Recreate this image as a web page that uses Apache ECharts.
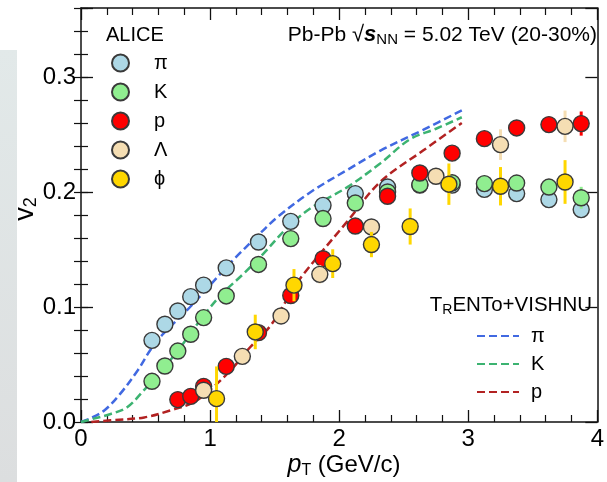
<!DOCTYPE html>
<html>
<head>
<meta charset="utf-8">
<script src="https://cdn.jsdelivr.net/npm/echarts@6/dist/echarts.min.js"></script>
<style>
html,body{margin:0;padding:0;background:#fff;}
#chart{width:607px;height:482px;}
</style>
</head>
<body>
<div id="chart"></div>
<script>
// ---------- data ----------
const xTicks = [0, 1, 2, 3, 4];
const yTicks = [0.0, 0.1, 0.2, 0.3];

const pionX = [0.55,0.65,0.75,0.85,0.95,1.125,1.375,1.625,1.875,2.125,2.375,2.625,2.875,3.125,3.375,3.625,3.875];
const pionY = [0.071,0.085,0.0965,0.109,0.119,0.134,0.1565,0.1745,0.1884,0.1986,0.2043,0.206,0.206,0.2023,0.1986,0.1934,0.1847];
const pionErr = [0.001,0.001,0.001,0.001,0.001,0.001,0.001,0.002,0.002,0.002,0.002,0.003,0.003,0.004,0.004,0.005,0.006];

const kaonX = [0.55,0.65,0.75,0.85,0.95,1.125,1.375,1.625,1.875,2.125,2.375,2.625,2.875,3.125,3.375,3.625,3.875];
const kaonY = [0.0354,0.0487,0.0617,0.0763,0.0908,0.1096,0.137,0.1595,0.1769,0.1904,0.200,0.2064,0.208,0.2073,0.2078,0.2043,0.195];
const kaonErr = [0.001,0.001,0.001,0.001,0.001,0.001,0.002,0.002,0.002,0.002,0.003,0.003,0.004,0.004,0.005,0.006,0.0095];

const protonX = [0.75,0.85,0.95,1.125,1.375,1.625,1.875,2.125,2.375,2.625,2.875,3.125,3.375,3.625,3.875];
const protonY = [0.0195,0.0223,0.031,0.0484,0.0777,0.110,0.142,0.1704,0.1963,0.2165,0.2338,0.2464,0.2557,0.2586,0.2595];
const protonErr = [0.002,0.002,0.002,0.002,0.002,0.002,0.002,0.003,0.003,0.003,0.004,0.004,0.005,0.006,0.0105];

const lambdaX = [0.95,1.25,1.55,1.85,2.25,2.75,3.25,3.75];
const lambdaY = [0.0276,0.0571,0.0922,0.1284,0.1696,0.2137,0.2412,0.2571];
const lambdaErr = [0.003,0.003,0.004,0.008,0.006,0.007,0.0133,0.0137];

const phiX = [1.05,1.35,1.65,1.95,2.25,2.55,2.85,3.25,3.75];
const phiY = [0.0203,0.0783,0.119,0.1377,0.1543,0.170,0.2068,0.205,0.2087];
const phiErr = [0.028,0.015,0.014,0.0125,0.011,0.0157,0.018,0.0167,0.019];

// TRENTo+VISHNU model curves
const modelPiX = [0,0.07,0.18,0.30,0.44,0.54,0.64,0.82,1.0,1.18,1.36,1.52,1.78,2.06,2.32,2.65,2.95];
const modelPiY = [0,0.003,0.010,0.024,0.045,0.063,0.077,0.097,0.119,0.141,0.161,0.178,0.200,0.219,0.236,0.254,0.271];
const modelKX = [0,0.05,0.23,0.36,0.49,0.62,0.77,0.92,1.08,1.26,1.41,1.59,1.78,2.06,2.32,2.55,2.75,2.95];
const modelKY = [0,0.0015,0.007,0.013,0.028,0.044,0.065,0.088,0.110,0.129,0.146,0.168,0.186,0.204,0.225,0.246,0.255,0.265];
const modelPX = [0.08,0.23,0.49,0.69,0.87,1.0,1.16,1.31,1.47,1.62,1.72,2.06,2.32,2.65,2.95];
const modelPY = [0,0.0015,0.004,0.010,0.017,0.028,0.045,0.065,0.084,0.111,0.128,0.174,0.209,0.236,0.260];

const speciesNames = ['π','K','p','Λ','ϕ'];
const modelNames = ['π','K','p'];

// ---------- styles ----------
const FONT = 'Liberation Sans, Arial, Helvetica, sans-serif';
const fills = ['#add8e6','#90ee90','#ff0000','#f5deb3','#ffd700'];
const barColors = ['#add8e6','#90ee90','#ff0000','#f5deb3','#ffd700'];
const modelColors = ['#4169e1','#3cb371','#b22222'];

const zip = (xs, ys) => xs.map((x,i)=>[x, ys[i]]);
const zip3 = (xs, ys, es) => xs.map((x,i)=>[x, ys[i], es[i]]);

const sets = [
  [pionX,pionY,pionErr],[kaonX,kaonY,kaonErr],[protonX,protonY,protonErr],
  [lambdaX,lambdaY,lambdaErr],[phiX,phiY,phiErr]
];
const models = [[modelPiX,modelPiY],[modelKX,modelKY],[modelPX,modelPY]];

const series = [];
models.forEach((m,i)=>{
  series.push({
    name: 'TRENTo ' + modelNames[i],
    type: 'line', xAxisIndex:0, yAxisIndex:0,
    data: zip(m[0], m[1]),
    smooth: 0.35, symbol: 'none', showSymbol:false,
    lineStyle: {color: modelColors[i], width: 2.5, type: [8,4]},
    itemStyle: {color: modelColors[i]},
    z: 2, silent: true
  });
});
sets.forEach((s,i)=>{
  series.push({
    name: 'err ' + speciesNames[i],
    type: 'custom', xAxisIndex:0, yAxisIndex:0,
    data: zip3(s[0], s[1], s[2]),
    clip: true,
    encode: {x:0, y:1},
    renderItem: function(params, api){
      const x = api.value(0), y = api.value(1), e = api.value(2);
      const a = api.coord([x, y - e]), b = api.coord([x, y + e]);
      return {type:'line', shape:{x1:a[0], y1:a[1], x2:b[0], y2:b[1]},
              style:{stroke: barColors[i], lineWidth: 3}};
    },
    z: 3 + i*2, silent: true
  });
  series.push({
    name: speciesNames[i],
    type: 'scatter', xAxisIndex:0, yAxisIndex:0,
    data: zip(s[0], s[1]),
    symbol: 'circle', symbolSize: 16,
    itemStyle: {color: fills[i], borderColor: '#3a3a3a', borderWidth: 1.4, opacity: 1},
    z: 4 + i*2, silent: true
  });
});

const axisCol = '#111';
const baseX = {
  type:'value', min: xTicks[0], max: xTicks[xTicks.length-1], interval: 1,
  axisLine:{show:true, onZero:false, lineStyle:{color:axisCol, width:1.5}},
  axisTick:{show:true, inside:true, length:12, lineStyle:{color:axisCol, width:1.3}},
  minorTick:{show:true, splitNumber:5, length:7, lineStyle:{color:axisCol, width:1.2}},
  splitLine:{show:false}, minorSplitLine:{show:false}
};
const baseY = {
  type:'value', min: 0, max: 0.36, interval: 0.1,
  axisLine:{show:true, onZero:false, lineStyle:{color:axisCol, width:1.5}},
  axisTick:{show:true, inside:true, length:12, lineStyle:{color:axisCol, width:1.3}},
  splitLine:{show:false}
};
const minorY = {
  type:'value', min: 0, max: 0.36, interval: 0.02,
  axisLine:{show:false},
  axisTick:{show:true, inside:true, length:7, lineStyle:{color:axisCol, width:1.2}},
  axisLabel:{show:false}, splitLine:{show:false}
};

const option = {
  animation: false,
  backgroundColor: '#ffffff',
  grid: {left: 81, right: 9, top: 8, bottom: 60},
  xAxis: [
    Object.assign({}, baseX, {position:'bottom',
      axisLabel:{show:true, fontSize:24, color:'#000', fontFamily:FONT, margin:5,
        formatter: v => xTicks.includes(v) ? String(v) : ''}}),
    Object.assign({}, baseX, {position:'top', axisLabel:{show:false}})
  ],
  yAxis: [
    Object.assign({}, baseY, {position:'left',
      axisLabel:{show:true, fontSize:24, color:'#000', fontFamily:FONT, margin:5,
        formatter: v => { const t = yTicks.find(q => Math.abs(q - v) < 1e-6); return t === undefined ? '' : t.toFixed(1); }}}),
    Object.assign({}, minorY, {position:'left'}),
    Object.assign({}, baseY, {position:'right', axisLabel:{show:false}}),
    Object.assign({}, minorY, {position:'right'})
  ],
  legend: [
    {
      data: speciesNames, orient:'vertical', left: 106, top: 48,
      itemWidth: 17, itemHeight: 17, itemGap: 9, icon: 'circle',
      selectedMode: false,
      textStyle: {fontSize: 20, color:'#000', fontFamily: FONT, padding:[0,0,0,20]}
    },
    {
      data: modelNames.map(n => 'TRENTo ' + n), orient:'vertical', left: 471, top: 321,
      itemWidth: 42, itemHeight: 14, itemGap: 8, selectedMode:false,
      itemStyle: {opacity: 0},
      formatter: n => n.replace('TRENTo ', ''),
      textStyle: {fontSize: 20, color:'#000', fontFamily: FONT, padding:[0,0,0,7]}
    }
  ],
  graphic: [
    {type:'text', left: 106, top: 25, z: 50,
      style:{text:'ALICE', fontSize:20, fontFamily:FONT, fill:'#000'}},
    {type:'text', x: 597, y: 35, z: 50,
      style:{text:'Pb-Pb {r|√}{s|s}{sub|NN} = 5.02 TeV (20-30%)', fontSize:21, fontFamily:FONT, fill:'#000',
        align:'right', verticalAlign:'middle',
        rich:{
          r:{fontSize:22, fontFamily:FONT, fill:'#000', lineHeight:21},
          s:{fontSize:22, fontStyle:'italic', fontWeight:'bold', fontFamily:FONT, fill:'#000', lineHeight:21},
          sub:{fontSize:15, fontFamily:FONT, fill:'#000', lineHeight:15, padding:[10,0,0,0]}
        }}},
    {type:'text', x: 592, y: 305, z: 50,
      style:{text:'T{sub|R}ENTo+VISHNU', fontSize:20.5, fontFamily:FONT, fill:'#000',
        align:'right', verticalAlign:'middle',
        rich:{ sub:{fontSize:14, fontFamily:FONT, fill:'#000', lineHeight:14, padding:[10,0,0,0]} }}},
    {type:'text', x: 344, y: 465, z: 50,
      style:{text:'{i|p}{sub|T} (GeV/c)', fontSize:24, fontFamily:FONT, fill:'#000',
        align:'center', verticalAlign:'middle',
        rich:{ i:{fontSize:25, fontStyle:'italic', fontFamily:FONT, fill:'#000', lineHeight:24},
               sub:{fontSize:16, fontFamily:FONT, fill:'#000', lineHeight:16, padding:[11,0,0,0]} }}},
    {type:'text', x: 26, y: 209, rotation: Math.PI/2, z: 50,
      style:{text:'{v|v}{sub|2}', fontFamily:FONT, fill:'#000',
        align:'center', verticalAlign:'middle',
        rich:{ v:{fontSize:27, fontFamily:FONT, fill:'#000', lineHeight:27},
               sub:{fontSize:18, fontFamily:FONT, fill:'#000', lineHeight:18, padding:[11,0,0,0]} }}},
    {type:'rect', shape:{x:0, y:50, width:17, height:432}, z: 60, silent:true,
      style:{fill:{type:'linear', x:0, y:0, x2:1, y2:1,
        colorStops:[{offset:0, color:'#e2e9e9'},{offset:1, color:'#dcdedf'}]}}}
  ],
  series: series
};

const chart = echarts.init(document.getElementById('chart'), null, {renderer:'canvas'});
chart.setOption(option);
</script>
</body>
</html>
